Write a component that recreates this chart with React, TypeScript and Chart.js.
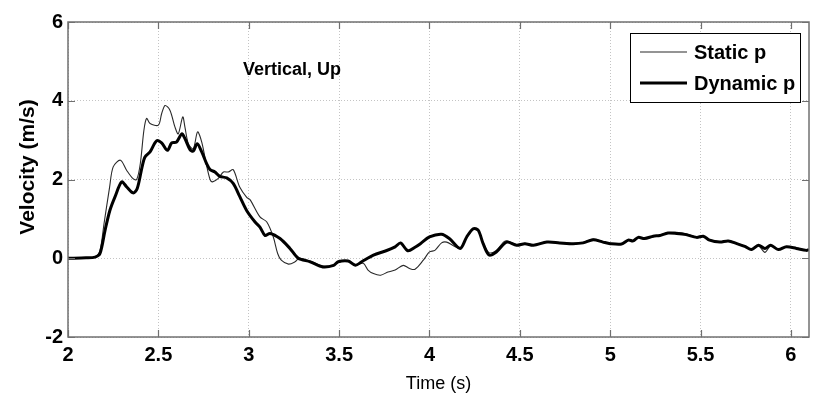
import React, { useEffect, useRef } from 'react';
import { Chart, registerables } from 'chart.js';

Chart.register(...registerables);

// ---- data ----
const staticTime = [
  2.0, 2.1, 2.15, 2.177, 2.2, 2.23, 2.25, 2.29, 2.325, 2.36, 2.38, 2.4, 2.42, 2.435, 2.454, 2.5,
  2.518, 2.537, 2.564, 2.592, 2.61, 2.635, 2.647, 2.666, 2.693, 2.717, 2.74, 2.763, 2.786, 2.8,
  2.83, 2.86, 2.887, 2.914, 2.95, 2.99, 3.007, 3.062, 3.1, 3.136, 3.16, 3.18, 3.22, 3.256, 3.28,
  3.34, 3.41, 3.47, 3.495, 3.55, 3.59, 3.634, 3.66, 3.69, 3.73, 3.77, 3.81, 3.855, 3.89, 3.92,
  3.966, 4.0, 4.03, 4.067, 4.095, 4.14, 4.17, 4.206, 4.242, 4.27, 4.297, 4.33, 4.37, 4.42, 4.482,
  4.528, 4.575, 4.65, 4.72, 4.795, 4.85, 4.906, 4.96, 5.0, 5.063, 5.1, 5.127, 5.155, 5.19, 5.238,
  5.275, 5.32, 5.367, 5.42, 5.478, 5.515, 5.55, 5.607, 5.653, 5.7, 5.745, 5.782, 5.82, 5.856,
  5.888, 5.93, 5.975, 6.03, 6.085, 6.1,
];
const staticVel = [
  0.0, 0.01, 0.03, 0.2, 0.9, 1.8, 2.32, 2.49, 2.23, 2.02, 2.0, 2.4, 3.25, 3.55, 3.42, 3.38,
  3.67, 3.88, 3.76, 3.33, 3.16, 3.59, 3.33, 2.91, 2.78, 3.21, 2.95, 2.44, 2.0, 1.94,
  2.02, 2.19, 2.19, 2.25, 1.81, 1.54, 1.49, 1.05, 0.92, 0.54, 0.12, -0.05, -0.15, -0.09, 0.0,
  -0.07, -0.2, -0.17, -0.1, -0.06, -0.16, -0.13, -0.3, -0.39, -0.43, -0.35, -0.3, -0.18, -0.26, -0.28,
  -0.05, 0.16, 0.2, 0.39, 0.41, 0.3, 0.26, 0.52, 0.73, 0.7, 0.4, 0.14, 0.2, 0.44, 0.35,
  0.38, 0.34, 0.42, 0.38, 0.36, 0.4, 0.49, 0.42, 0.38, 0.35, 0.45, 0.45, 0.52, 0.51, 0.55,
  0.59, 0.65, 0.66, 0.62, 0.54, 0.55, 0.47, 0.42, 0.45, 0.38, 0.31, 0.21, 0.32, 0.15,
  0.32, 0.23, 0.28, 0.26, 0.21, 0.22,
];
const dynamicTime = [
  2.0, 2.1, 2.15, 2.177, 2.205, 2.232, 2.26, 2.297, 2.325, 2.36, 2.383, 2.41, 2.426, 2.454, 2.49,
  2.518, 2.55, 2.574, 2.6, 2.63, 2.647, 2.675, 2.693, 2.715, 2.74, 2.767, 2.786, 2.813, 2.84, 2.878,
  2.914, 2.95, 2.99, 3.035, 3.062, 3.09, 3.118, 3.173, 3.228, 3.274, 3.34, 3.41, 3.47, 3.495, 3.55,
  3.59, 3.625, 3.69, 3.76, 3.81, 3.84, 3.88, 3.92, 3.95, 4.0, 4.067, 4.11, 4.17, 4.206, 4.242, 4.27,
  4.297, 4.33, 4.37, 4.427, 4.482, 4.528, 4.575, 4.65, 4.72, 4.795, 4.85, 4.906, 4.96, 5.0, 5.063,
  5.1, 5.127, 5.155, 5.19, 5.238, 5.275, 5.32, 5.367, 5.42, 5.478, 5.515, 5.55, 5.607, 5.653, 5.7,
  5.745, 5.782, 5.82, 5.856, 5.888, 5.93, 5.975, 6.03, 6.085, 6.1,
];
const dynamicVel = [
  0.0, 0.01, 0.03, 0.12, 0.71, 1.22, 1.56, 1.94, 1.81, 1.66, 1.77, 2.32, 2.57, 2.7, 2.98,
  2.93, 2.74, 2.93, 2.95, 3.16, 3.04, 2.76, 2.72, 2.91, 2.7, 2.4, 2.25, 2.19, 2.08, 2.04,
  1.9, 1.57, 1.2, 0.92, 0.79, 0.58, 0.63, 0.5, 0.25, 0.0, -0.09, -0.22, -0.18, -0.09, -0.07,
  -0.18, -0.09, 0.08, 0.19, 0.29, 0.39, 0.19, 0.28, 0.37, 0.54, 0.61, 0.5, 0.25, 0.54, 0.75, 0.71,
  0.37, 0.08, 0.16, 0.41, 0.33, 0.37, 0.33, 0.41, 0.39, 0.37, 0.39, 0.47, 0.41, 0.37, 0.36,
  0.46, 0.44, 0.53, 0.5, 0.56, 0.58, 0.64, 0.63, 0.6, 0.53, 0.56, 0.46, 0.41, 0.44, 0.37,
  0.3, 0.22, 0.33, 0.25, 0.33, 0.22, 0.29, 0.25, 0.2, 0.22,
];
const seriesLabels = ['Static p', 'Dynamic p'];
const chartTitle = 'Vertical, Up';
const xTitle = 'Time (s)';
const yTitle = 'Velocity (m/s)';
const xMin = 2;
const xMax = 6.1;
const xStep = 0.5;
const yMin = -2;
const yMax = 6;
const yStep = 2;

const FONT = '"Liberation Sans", Arial, Helvetica, sans-serif';

const framePlugin = {
  id: 'frame',
  afterDatasetsDraw(chart: any) {
    const { ctx, chartArea } = chart;
    const { left, right, top, bottom } = chartArea;
    const xs = chart.scales.x;
    const ys = chart.scales.y;
    ctx.save();
    // box
    ctx.strokeStyle = '#707070';
    ctx.lineWidth = 1.5;
    ctx.setLineDash([]);
    ctx.strokeRect(left, top, right - left, bottom - top);
    // inward ticks
    const tl = 7;
    ctx.beginPath();
    xs.ticks.forEach((t: any) => {
      const px = Math.round(xs.getPixelForValue(t.value)) + 0.5;
      ctx.moveTo(px, bottom); ctx.lineTo(px, bottom - tl);
      ctx.moveTo(px, top); ctx.lineTo(px, top + tl);
    });
    ys.ticks.forEach((t: any) => {
      const py = Math.round(ys.getPixelForValue(t.value)) + 0.5;
      ctx.moveTo(left, py); ctx.lineTo(left + tl, py);
      ctx.moveTo(right, py); ctx.lineTo(right - tl, py);
    });
    ctx.lineWidth = 1.2;
    ctx.stroke();

    // y-axis title (rotated)
    ctx.save();
    ctx.translate(left - 40, top + 145);
    ctx.rotate(-Math.PI / 2);
    ctx.fillStyle = '#000';
    ctx.font = `bold 21px ${FONT}`;
    ctx.textAlign = 'center';
    ctx.textBaseline = 'middle';
    ctx.fillText(yTitle, 0, 0);
    ctx.restore();

    // in-plot title
    ctx.fillStyle = '#000';
    ctx.font = `bold 18px ${FONT}`;
    ctx.textAlign = 'center';
    ctx.textBaseline = 'middle';
    ctx.fillText(chartTitle, left + 224, top + 48);

    // legend box
    const bx = right - 179;
    const by = top + 11;
    const bw = 170;
    const bh = 69;
    ctx.fillStyle = '#fff';
    ctx.fillRect(bx, by, bw, bh);
    ctx.strokeStyle = '#000';
    ctx.lineWidth = 1;
    ctx.strokeRect(bx + 0.5, by + 0.5, bw, bh);
    const rows = [by + 19, by + 50];
    chart.data.datasets.forEach((ds: any, i: number) => {
      const ry = rows[i];
      ctx.beginPath();
      ctx.strokeStyle = ds.borderColor;
      ctx.lineWidth = ds.borderWidth;
      ctx.moveTo(bx + 10, ry);
      ctx.lineTo(bx + 57, ry);
      ctx.stroke();
      ctx.fillStyle = '#000';
      ctx.font = `bold 20px ${FONT}`;
      ctx.textAlign = 'left';
      ctx.textBaseline = 'middle';
      ctx.fillText(ds.label, bx + 64, ry + 1);
    });
    ctx.restore();
  },
};

const fmt = (v: any) => String(Number(v));

export default function App() {
  const ref = useRef<HTMLCanvasElement | null>(null);
  useEffect(() => {
    if (!ref.current) return;
    const mk = (ts: number[], vs: number[]) => ts.map((t, i) => ({ x: t, y: vs[i] }));
    const chart = new Chart(ref.current, {
      type: 'line',
      data: {
        datasets: [
          {
            label: seriesLabels[0],
            data: mk(staticTime, staticVel),
            borderColor: '#2a2a2a',
            borderWidth: 1.1,
            pointRadius: 0,
            tension: 0.3,
            fill: false,
            order: 2,
          },
          {
            label: seriesLabels[1],
            data: mk(dynamicTime, dynamicVel),
            borderColor: '#000',
            borderWidth: 3,
            pointRadius: 0,
            tension: 0.3,
            fill: false,
            order: 1,
          },
        ],
      },
      options: {
        responsive: false,
        animation: false,
        events: [],
        layout: { padding: { top: 22, right: 7, left: 0, bottom: 0 } },
        plugins: { legend: { display: false }, title: { display: false }, tooltip: { enabled: false } },
        scales: {
          x: {
            type: 'linear',
            min: xMin,
            max: xMax,
            afterFit: (s: any) => { s.height = 63; },
            ticks: {
              stepSize: xStep,
              includeBounds: false,
              maxRotation: 0,
              autoSkip: false,
              padding: 6,
              color: '#000',
              callback: fmt,
              font: { family: FONT, size: 20, weight: 'bold' },
            },
            grid: { color: '#c4c4c4', lineWidth: 1, drawTicks: false },
            border: { display: false, dash: [1, 2] },
            title: {
              display: true,
              text: xTitle,
              color: '#000',
              font: { family: FONT, size: 18 },
              padding: { top: 0, bottom: 5 },
            },
          },
          y: {
            type: 'linear',
            min: yMin,
            max: yMax,
            afterFit: (s: any) => { s.width = 68; },
            ticks: {
              stepSize: yStep,
              padding: 5,
              color: '#000',
              callback: fmt,
              font: { family: FONT, size: 20, weight: 'bold' },
            },
            grid: { color: '#c4c4c4', lineWidth: 1, drawTicks: false },
            border: { display: false, dash: [1, 2] },
            title: { display: false },
          },
        },
      },
      plugins: [framePlugin],
    } as any);
    return () => chart.destroy();
  }, []);
  return (
    <div style={{ position: 'absolute', left: 0, top: 0, width: 816, height: 400, background: '#fff' }}>
      <canvas ref={ref} width={816} height={400} />
    </div>
  );
}
